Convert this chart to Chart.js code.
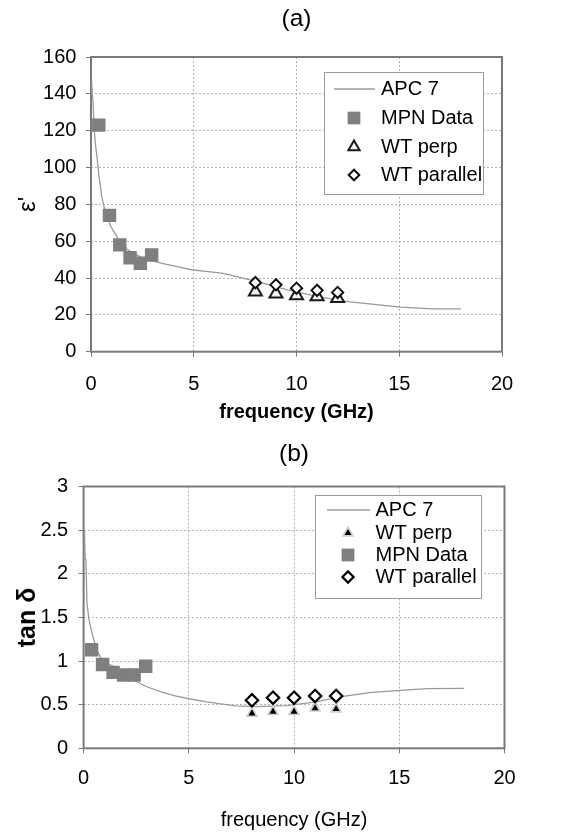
<!DOCTYPE html>
<html><head><meta charset="utf-8">
<script src="https://cdn.jsdelivr.net/npm/chart.js"></script>
<style>
html,body{margin:0;padding:0;background:#fff;}
body{width:575px;height:834px;position:relative;overflow:hidden;}
.wrap{position:absolute;left:0;width:575px;}
#wa{top:0;height:440px;}
#wb{top:420px;height:414px;}
canvas{display:block;}
</style></head><body>
<div class="wrap" id="wa"><canvas id="ca" width="575" height="440"></canvas></div>
<div class="wrap" id="wb"><canvas id="cb" width="575" height="414"></canvas></div>
<script>
// ---------- data ----------
const freqTicks = [0, 5, 10, 15, 20];
const freqTickLabels = ['0', '5', '10', '15', '20'];
const epsTicks = [0, 20, 40, 60, 80, 100, 120, 140, 160];
const epsTickLabels = ['0', '20', '40', '60', '80', '100', '120', '140', '160'];
const tanTicks = [0, 0.5, 1, 1.5, 2, 2.5, 3];
const tanTickLabels = ['0', '0.5', '1', '1.5', '2', '2.5', '3'];

// (a) permittivity
const apcFreqA = [0.03, 0.06, 0.1, 0.15, 0.22, 0.3, 0.37, 0.52, 0.67, 0.96, 1.33, 1.78, 2.51, 3.4, 4.14, 4.88, 5.7, 6.36, 7.1, 8.08, 9.56, 11.04, 12.51, 13.55, 15.03, 16.66, 18.0];
const apcEpsA = [147, 140, 136, 121, 112, 105, 97, 84.5, 77, 68, 61, 55.3, 50.8, 48.1, 46.3, 44.5, 43.5, 42.7, 40.8, 38.1, 33.6, 29.9, 27.2, 26.0, 24.2, 23.2, 23.2];
const mpnFreq = [0.38, 0.9, 1.4, 1.9, 2.4, 2.95];
const mpnEps = [123, 74, 58, 51, 48, 52.5];
const wtFreq = [8, 9, 10, 11, 12];
const wtPerpEps = [32.5, 31.5, 30.5, 30, 29];
const wtParEps = [37.5, 36.3, 34.5, 33.3, 32.2];

// (b) loss tangent
const apcFreqB = [0.04, 0.08, 0.11, 0.16, 0.26, 0.4, 0.62, 0.91, 1.48, 2.05, 2.92, 3.64, 4.35, 5.07, 5.79, 6.51, 7.23, 8.18, 9.64, 10.51, 11.09, 12.26, 12.84, 13.57, 14.88, 16.34, 18.09];
const apcTanB = [2.50, 2.17, 2.16, 1.66, 1.47, 1.32, 1.13, 0.99, 0.935, 0.82, 0.714, 0.649, 0.60, 0.565, 0.534, 0.508, 0.485, 0.477, 0.488, 0.516, 0.534, 0.591, 0.611, 0.637, 0.66, 0.683, 0.687];
const mpnTan = [1.13, 0.96, 0.87, 0.84, 0.84, 0.94];
const wtPerpTan = [0.40, 0.42, 0.42, 0.46, 0.45];
const wtParTan = [0.55, 0.58, 0.58, 0.60, 0.60];

// ---------- helpers ----------
const FONT = "'Liberation Sans', Arial, Helvetica, sans-serif";
Chart.defaults.font.family = FONT;
Chart.defaults.color = '#000';
const pts = (xs, ys) => xs.map((x, i) => ({x: x, y: ys[i]}));

const framePlugin = {
  id: 'frame',
  beforeDatasetsDraw(chart) {
    const a = chart.chartArea, ctx = chart.ctx;
    ctx.save();
    ctx.strokeStyle = '#7a7a7a';
    ctx.lineWidth = 2;
    ctx.strokeRect(a.left, a.top, a.right - a.left, a.bottom - a.top);
    ctx.restore();
  }
};

const boxLegendPlugin = {
  id: 'boxLegend',
  afterDatasetsDraw(chart, args, o) {
    const ctx = chart.ctx;
    ctx.save();
    ctx.fillStyle = '#fff';
    ctx.fillRect(o.x, o.y, o.w, o.h);
    ctx.strokeStyle = '#9a9a9a';
    ctx.lineWidth = 1;
    ctx.strokeRect(o.x + 0.5, o.y + 0.5, o.w, o.h);
    ctx.font = o.fontSize + 'px ' + FONT;
    ctx.textBaseline = 'middle';
    ctx.textAlign = 'left';
    chart.data.datasets.forEach((ds, i) => {
      const y = o.rowY[i];
      if (ds.showLine) {
        ctx.strokeStyle = ds.borderColor;
        ctx.lineWidth = ds.borderWidth;
        ctx.beginPath();
        ctx.moveTo(o.lineX0, y);
        ctx.lineTo(o.lineX1, y);
        ctx.stroke();
      } else {
        ctx.fillStyle = ds.backgroundColor;
        ctx.strokeStyle = ds.borderColor;
        ctx.lineWidth = ds.borderWidth;
        Chart.helpers.drawPoint(ctx, {
          pointStyle: ds.pointStyle, rotation: 0,
          radius: ds.legendRadius || ds.pointRadius, borderWidth: ds.borderWidth
        }, o.markerX, y);
      }
      ctx.fillStyle = '#000';
      ctx.fillText(ds.label, o.textX, y);
    });
    ctx.restore();
  }
};

const gridOpts = {color: '#b4b4b4', lineWidth: 1, drawTicks: true, tickLength: 5, tickColor: '#7a7a7a', tickWidth: 1};
const borderOpts = {display: false, dash: [2, 2]};

// ---------- chart (a) ----------
new Chart(document.getElementById('ca'), {
  type: 'scatter',
  data: {
    datasets: [
      {label: 'APC 7', data: pts(apcFreqA, apcEpsA), showLine: true, pointRadius: 0,
       borderColor: '#9a9a9a', borderWidth: 1.3, order: 4},
      {label: 'MPN Data', data: pts(mpnFreq, mpnEps), pointStyle: 'rect', pointRadius: 9.5,
       legendRadius: 9, backgroundColor: '#7f7f7f', borderColor: '#7f7f7f', borderWidth: 0, order: 3},
      {label: 'WT perp', data: pts(wtFreq, wtPerpEps), pointStyle: 'triangle', pointRadius: 7.5,
       legendRadius: 6.5, backgroundColor: '#f2f2f2', borderColor: '#1a1a1a', borderWidth: 2, order: 2},
      {label: 'WT parallel', data: pts(wtFreq, wtParEps), pointStyle: 'rectRot', pointRadius: 5.6,
       legendRadius: 5.3, backgroundColor: '#ffffff', borderColor: '#111', borderWidth: 2, order: 1}
    ]
  },
  options: {
    responsive: false, animation: false,
    layout: {padding: {left: 0, right: 73, top: 4.3, bottom: 0}},
    plugins: {
      legend: {display: false}, tooltip: {enabled: false},
      title: {display: true, text: '(a)', fullSize: false, color: '#000',
              font: {size: 24.5, weight: 'normal'}, padding: {top: 0, bottom: 23.3}},
      boxLegend: {x: 324, y: 72, w: 159, h: 122, fontSize: 20,
                  rowY: [89, 118, 147, 175], lineX0: 334, lineX1: 375, markerX: 354, textX: 381}
    },
    scales: {
      x: {type: 'linear', min: 0, max: 20,
          afterBuildTicks: s => { s.ticks = freqTicks.map(v => ({value: v})); },
          ticks: {font: {size: 20}, color: '#000', padding: 16, maxRotation: 0,
                  callback: (v, i) => freqTickLabels[i]},
          grid: gridOpts, border: borderOpts,
          title: {display: true, text: 'frequency (GHz)', color: '#000',
                  font: {size: 20, weight: 'bold'}, padding: {top: 0, bottom: 16}},
          afterFit: s => { s.height = 440 - 351.7; }},
      y: {type: 'linear', min: 0, max: 160,
          afterBuildTicks: s => { s.ticks = epsTicks.map(v => ({value: v})); },
          ticks: {font: {size: 20}, color: '#000', padding: 9.6,
                  callback: (v, i) => epsTickLabels[i]},
          grid: gridOpts, border: borderOpts,
          title: {display: true, text: 'ε\'', color: '#000',
                  font: {size: 24, weight: 'normal'}, padding: {top: 13.6, bottom: 0}},
          afterFit: s => { s.width = 91; }}
    }
  },
  plugins: [framePlugin, boxLegendPlugin]
});

// ---------- chart (b) ----------
new Chart(document.getElementById('cb'), {
  type: 'scatter',
  data: {
    datasets: [
      {label: 'APC 7', data: pts(apcFreqB, apcTanB), showLine: true, pointRadius: 0,
       borderColor: '#9a9a9a', borderWidth: 1.3, order: 4},
      {label: 'WT perp', data: pts(wtFreq, wtPerpTan), pointStyle: 'triangle', pointRadius: 5.7,
       backgroundColor: '#000', borderColor: '#cfcfcf', borderWidth: 1.7, order: 2},
      {label: 'MPN Data', data: pts(mpnFreq, mpnTan), pointStyle: 'rect', pointRadius: 9.5,
       legendRadius: 9, backgroundColor: '#7f7f7f', borderColor: '#7f7f7f', borderWidth: 0, order: 3},
      {label: 'WT parallel', data: pts(wtFreq, wtParTan), pointStyle: 'rectRot', pointRadius: 6.2,
       legendRadius: 5.6, backgroundColor: '#ffffff', borderColor: '#000', borderWidth: 2.2, order: 1}
    ]
  },
  options: {
    responsive: false, animation: false,
    layout: {padding: {left: 0, right: 70.5, top: 19.3, bottom: 0}},
    plugins: {
      legend: {display: false}, tooltip: {enabled: false},
      title: {display: true, text: '(b)', fullSize: false, color: '#000',
              font: {size: 24.5, weight: 'normal'}, padding: {top: 0, bottom: 17.8}},
      boxLegend: {x: 315, y: 75, w: 166, h: 103, fontSize: 20,
                  rowY: [90, 113, 135, 157], lineX0: 327, lineX1: 370, markerX: 348, textX: 375.5}
    },
    scales: {
      x: {type: 'linear', min: 0, max: 20,
          afterBuildTicks: s => { s.ticks = freqTicks.map(v => ({value: v})); },
          ticks: {font: {size: 20}, color: '#000', padding: 13, maxRotation: 0,
                  callback: (v, i) => freqTickLabels[i]},
          grid: gridOpts, border: borderOpts,
          title: {display: true, text: 'frequency (GHz)', color: '#000',
                  font: {size: 20, weight: 'normal'}, padding: {top: 0, bottom: 2}},
          afterFit: s => { s.height = 414 - 328.3; }},
      y: {type: 'linear', min: 0, max: 3,
          afterBuildTicks: s => { s.ticks = tanTicks.map(v => ({value: v})); },
          ticks: {font: {size: 20}, color: '#000', padding: 10.4,
                  callback: (v, i) => tanTickLabels[i]},
          grid: gridOpts, border: borderOpts,
          title: {display: true, text: 'tan δ', color: '#000',
                  font: {size: 25, weight: 'bold'}, padding: {top: 13, bottom: 0}},
          afterFit: s => { s.width = 83.6; }}
    }
  },
  plugins: [framePlugin, boxLegendPlugin]
});
</script>
</body></html>
